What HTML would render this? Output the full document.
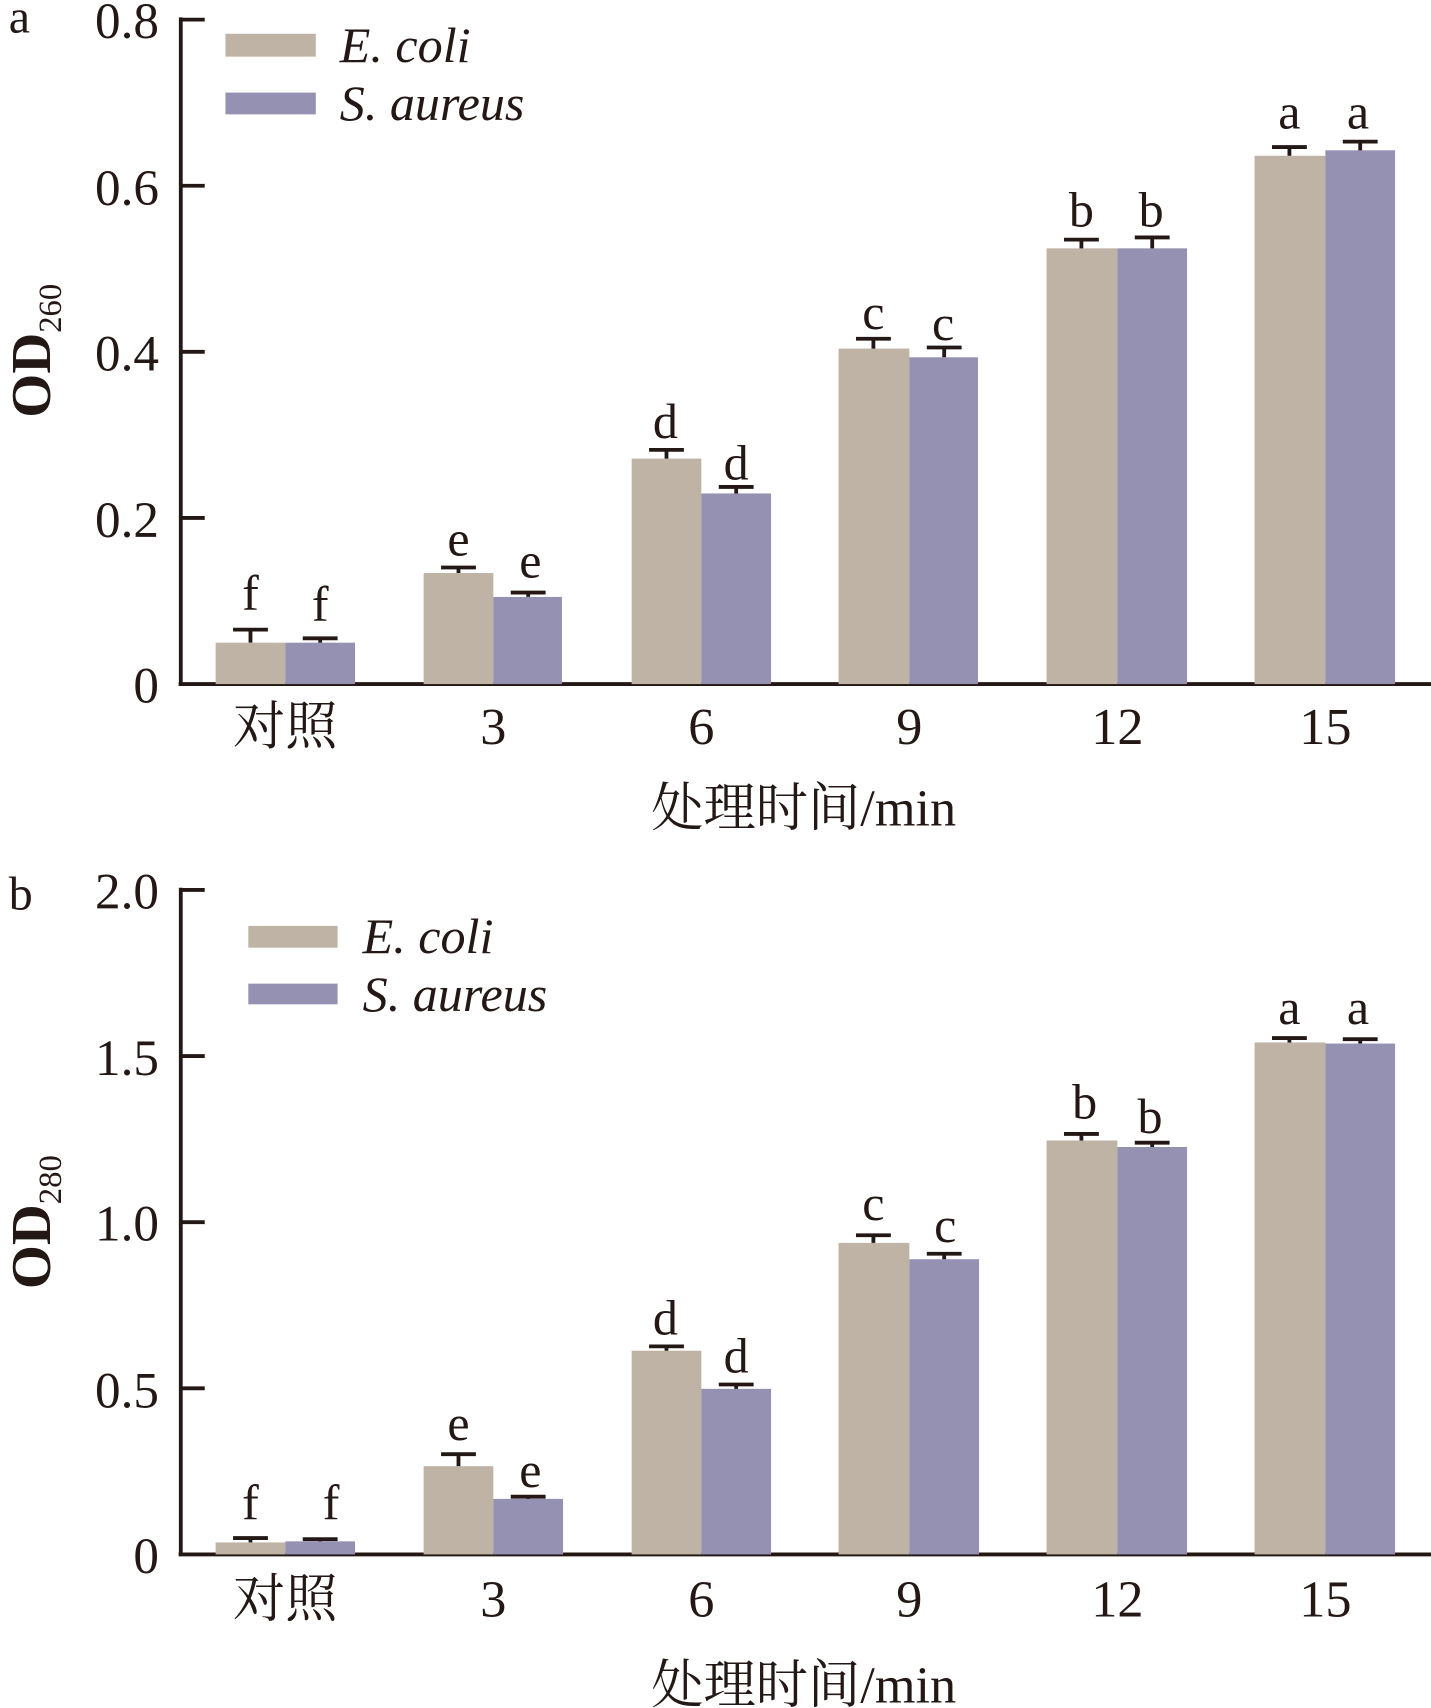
<!DOCTYPE html>
<html><head><meta charset="utf-8"><style>
html,body{margin:0;padding:0;background:#fff;}
svg{display:block;}
text{font-family:"Liberation Serif","Noto Serif CJK SC",serif;fill:#231815;}
</style></head><body>
<svg width="1431" height="1708" viewBox="0 0 1314 1568" preserveAspectRatio="none" xmlns="http://www.w3.org/2000/svg">
<g stroke="#231815" stroke-width="3.5" fill="none">
<path d="M166 16 V628 M164 628 H1314"/>
<path d="M166 18 H188 M166 170.5 H188 M166 323 H188 M166 475.5 H188"/>
<path d="M166 815 V1427 M164 1427 H1314"/>
<path d="M166 817 H188 M166 969.5 H188 M166 1122 H188 M166 1274.5 H188"/>
</g>
<g fill="#bfb3a5">
<rect x="198" y="590" width="64" height="38"/><rect x="389" y="526" width="64" height="102"/><rect x="580" y="421" width="64" height="207"/><rect x="770" y="320" width="65" height="308"/><rect x="961" y="228" width="65" height="400"/><rect x="1152" y="143" width="65" height="485"/>
<rect x="198" y="1416" width="64" height="11"/><rect x="389" y="1346" width="64" height="81"/><rect x="580" y="1240" width="64" height="187"/><rect x="770" y="1141" width="65" height="286"/><rect x="961" y="1047" width="65" height="380"/><rect x="1152" y="957" width="65" height="470"/>
<rect x="207" y="31" width="83" height="21"/><rect x="228" y="850" width="82" height="20"/>
</g>
<g fill="#9591b3">
<rect x="262" y="590" width="64" height="38"/><rect x="453" y="548" width="63" height="80"/><rect x="644" y="453" width="64" height="175"/><rect x="835" y="328" width="63" height="300"/><rect x="1026" y="228" width="64" height="400"/><rect x="1217" y="138" width="64" height="490"/>
<rect x="262" y="1415" width="64" height="12"/><rect x="453" y="1376" width="64" height="51"/><rect x="644" y="1275" width="64" height="152"/><rect x="835" y="1156" width="64" height="271"/><rect x="1026" y="1053" width="64" height="374"/><rect x="1217" y="958" width="64" height="469"/>
<rect x="207" y="85" width="83" height="20"/><rect x="228" y="903" width="82" height="19"/>
</g>
<g stroke="#231815" stroke-width="3.5" fill="none">
<path d="M230 590V578M214 578H246 M294 590V586M278 586H310 M421 526V521M405 521H437 M485 548V544M469 544H501 M612 421V413M596 413H628 M676 453V447M660 447H692 M802 320V311M786 311H818 M867 328V319M851 319H883 M993 228V220M977 220H1009 M1058 228V218M1042 218H1074 M1184 143V135M1168 135H1200 M1249 138V130M1233 130H1265"/>
<path d="M230 1416V1412M214 1412H246 M294 1415V1413M278 1413H310 M421 1346V1335M405 1335H437 M485 1376V1374M469 1374H501 M612 1240V1236M596 1236H628 M676 1275V1271M660 1271H692 M802 1141V1134M786 1134H818 M867 1156V1151M851 1151H883 M993 1047V1041M977 1041H1009 M1058 1053V1049M1042 1049H1074 M1184 957V953M1168 953H1200 M1249 958V954M1233 954H1265"/>
</g>
<g font-size="46" text-anchor="middle">
<text x="230" y="560">f</text><text x="294" y="570">f</text><text x="421" y="510">e</text><text x="487" y="530">e</text><text x="611" y="402">d</text><text x="676" y="440">d</text><text x="802" y="302">c</text><text x="866" y="312">c</text><text x="993" y="208">b</text><text x="1057" y="208">b</text><text x="1184" y="118">a</text><text x="1247" y="118">a</text>
<text x="230" y="1395">f</text><text x="304" y="1395">f</text><text x="421" y="1322">e</text><text x="487" y="1365">e</text><text x="611" y="1225">d</text><text x="676" y="1260">d</text><text x="802" y="1120">c</text><text x="868" y="1140">c</text><text x="996" y="1027">b</text><text x="1056" y="1040">b</text><text x="1184" y="940">a</text><text x="1247" y="940">a</text>
</g>
<g font-size="47" text-anchor="end">
<text x="146" y="35">0.8</text><text x="146" y="188">0.6</text><text x="146" y="340">0.4</text><text x="146" y="493">0.2</text><text x="146" y="645">0</text>
<text x="146" y="834">2.0</text><text x="146" y="987">1.5</text><text x="146" y="1139">1.0</text><text x="146" y="1292">0.5</text><text x="146" y="1444">0</text>
</g>
<text x="8" y="30" font-size="44">a</text>
<text x="8" y="835" font-size="44">b</text>
<g font-size="46" font-style="italic">
<text x="312" y="57">E. coli</text><text x="312" y="110">S. aureus</text>
<text x="333" y="875">E. coli</text><text x="333" y="928">S. aureus</text>
</g>
<g font-size="48" text-anchor="middle">
<text x="262" y="683">对照</text><text x="453" y="683">3</text><text x="644" y="683">6</text><text x="835" y="683">9</text><text x="1026" y="683">12</text><text x="1217" y="683">15</text>
<text x="262" y="1484">对照</text><text x="453" y="1484">3</text><text x="644" y="1484">6</text><text x="835" y="1484">9</text><text x="1026" y="1484">12</text><text x="1217" y="1484">15</text>
<text x="738" y="758">处理时间/min</text>
<text x="738" y="1563">处理时间/min</text>
</g>
<text transform="translate(46,322) rotate(-90)" font-size="52" font-weight="bold" text-anchor="middle">OD<tspan font-size="30" font-weight="normal" dy="10">260</tspan></text>
<text transform="translate(46,1122) rotate(-90)" font-size="52" font-weight="bold" text-anchor="middle">OD<tspan font-size="30" font-weight="normal" dy="10">280</tspan></text>
</svg>
</body></html>
